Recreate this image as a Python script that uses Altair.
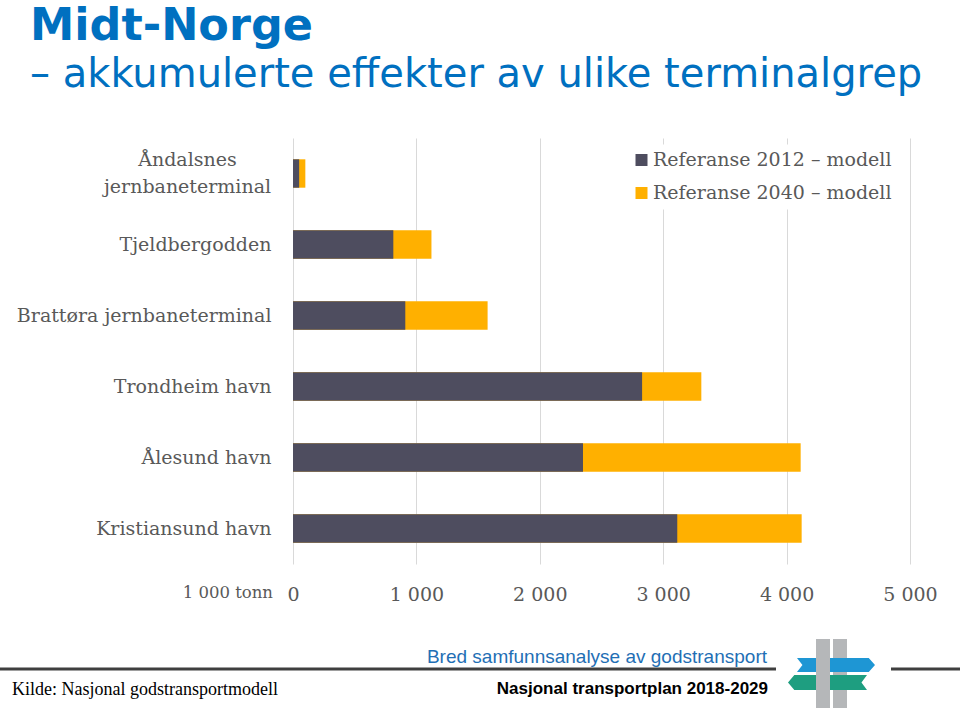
import altair as alt
import pandas as pd

# ---- data ----
categories = [
    "Åndalsnes jernbaneterminal",
    "Tjeldbergodden",
    "Brattøra jernbaneterminal",
    "Trondheim havn",
    "Ålesund havn",
    "Kristiansund havn",
]
ref_2012 = [50, 813, 910, 2829, 2350, 3114]
ref_2040 = [100, 1122, 1577, 3309, 4114, 4122]
series_names = ["Referanse 2012 – modell", "Referanse 2040 – modell"]
series_colors = ["#4E4D5F", "#FFB000"]
x_ticks = [0, 1000, 2000, 3000, 4000, 5000]

rows = []
for c, v in zip(categories, ref_2012):
    rows.append({"kategori": c, "serie": series_names[0], "verdi": v})
for c, v in zip(categories, ref_2040):
    rows.append({"kategori": c, "serie": series_names[1], "verdi": v})
df = pd.DataFrame(rows)

# ---- layout constants (plot area in page coords) ----
PX, PY = 293, 138          # plot origin on page
W, H = 617, 426


def px(x):
    return x - PX


def py(y):
    return y - PY


two_line = categories[0]
first, second = two_line.split(" ", 1)
label_expr = f"datum.label == '{two_line}' ? ['{first}', '{second}'] : datum.label"
cond_test = f"datum.value == '{two_line}'"

color_scale = alt.Scale(domain=series_names, range=series_colors)

y_enc = alt.Y(
    "kategori:N",
    sort=categories,
    title=None,
    scale=alt.Scale(paddingInner=0.6, paddingOuter=0.3),
    axis=alt.Axis(
        domain=False,
        ticks=False,
        grid=False,
        labelFont="DejaVu Serif",
        labelFontSize=19,
        labelColor="#595959",
        labelLineHeight=27,
        labelExpr=label_expr,
        labelAlign={"condition": {"test": cond_test, "value": "center"}, "value": "right"},
        labelPadding={"condition": {"test": cond_test, "value": 106}, "value": 22},
        labelOffset={"condition": {"test": cond_test, "value": -13.5}, "value": 0},
        labelLimit=400,
    ),
)

x_enc = alt.X(
    "verdi:Q",
    title=None,
    scale=alt.Scale(domain=[0, 5000], nice=False),
    axis=alt.Axis(
        values=x_ticks,
        domain=False,
        ticks=False,
        grid=True,
        gridColor="#D9D9D9",
        gridWidth=1,
        labelFont="DejaVu Serif",
        labelFontSize=19,
        labelColor="#595959",
        labelPadding=21,
        labelFlush=False,
        labelOverlap=False,
        labelExpr="replace(format(datum.value, ','), ',', ' ')",
    ),
)

color_enc = alt.Color(
    "serie:N",
    scale=color_scale,
    legend=alt.Legend(
        title=None,
        orient="none",
        legendX=px(626),
        legendY=py(144.5),
        direction="vertical",
        fillColor="white",
        padding=6,
        symbolType="square",
        symbolSize=144,
        symbolStrokeWidth=0,
        labelFont="DejaVu Serif",
        labelFontSize=19,
        labelColor="#595959",
        labelOffset=2,
        rowPadding=13,
        labelLimit=400,
    ),
)

bars_2040 = (
    alt.Chart(df)
    .transform_filter(alt.datum.serie == series_names[1])
    .mark_bar()
    .encode(x=x_enc, y=y_enc, color=color_enc)
)
bars_2012 = (
    alt.Chart(df)
    .transform_filter(alt.datum.serie == series_names[0])
    .mark_bar()
    .encode(x=x_enc, y=y_enc, color=color_enc)
)

one = pd.DataFrame({"k": [0]})


def text(t, x, y, **kw):
    return alt.Chart(one).mark_text(text=t, **kw).encode(
        x=alt.value(px(x)), y=alt.value(py(y))
    )


blue = "#0070C0"
title = text("Midt-Norge", 30, 40, font="DejaVu Sans", fontSize=44.5, fontWeight="bold",
             color=blue, align="left", baseline="alphabetic")
subtitle = text("– akkumulerte effekter av ulike terminalgrep", 30, 87, font="DejaVu Sans",
                fontSize=40, color=blue, align="left", baseline="alphabetic")
unit = text("1 000 tonn", 273, 598, font="DejaVu Serif", fontSize=16.5, color="#595959",
            align="right", baseline="alphabetic")
bred = text("Bred samfunnsanalyse av godstransport", 767, 663, font="Liberation Sans",
            fontSize=19, color="#1F6FB5", align="right", baseline="alphabetic")
ntp = text("Nasjonal transportplan 2018-2029", 768, 694, font="Liberation Sans",
           fontSize=17, fontWeight="bold", color="#000000", align="right", baseline="alphabetic")
kilde = text("Kilde: Nasjonal godstransportmodell", 12, 695, font="Liberation Serif",
             fontSize=18, color="#000000", align="left", baseline="alphabetic")

line_left = alt.Chart(one).mark_rule(color="#3F3F3F", strokeWidth=3).encode(
    x=alt.value(px(0)), x2=alt.value(px(776)), y=alt.value(py(669)))
line_right = alt.Chart(one).mark_rule(color="#3F3F3F", strokeWidth=3).encode(
    x=alt.value(px(891)), x2=alt.value(px(960)), y=alt.value(py(669)))

# logo (decorative)
bar2 = alt.Chart(one).mark_rect(color="#B5B7B9").encode(
    x=alt.value(px(833)), x2=alt.value(px(847)), y=alt.value(py(639)), y2=alt.value(py(708)))
blue_arrow = alt.Chart(one).mark_point(
    shape="M-1,-0.18 L0.84,-0.18 L1,0 L0.84,0.18 L-1,0.18 L-0.86,0 Z",
    filled=True, size=78 * 78, color="#1E96D4", opacity=1, strokeWidth=0,
).encode(x=alt.value(px(836)), y=alt.value(py(665)))
green_arrow = alt.Chart(one).mark_point(
    shape="M1,-0.19 L-0.84,-0.19 L-1,0 L-0.84,0.19 L1,0.19 L0.86,0 Z",
    filled=True, size=79 * 79, color="#1E9E80", opacity=1, strokeWidth=0,
).encode(x=alt.value(px(827.5)), y=alt.value(py(682.5)))
bar1 = alt.Chart(one).mark_rect(color="#B5B7B9").encode(
    x=alt.value(px(816)), x2=alt.value(px(830)), y=alt.value(py(639)), y2=alt.value(py(708)))

chart = (
    alt.layer(
        bars_2040, bars_2012,
        title, subtitle, unit, bred, ntp, kilde,
        line_left, line_right, bar2, blue_arrow, green_arrow, bar1,
    )
    .properties(
        width=W,
        height=H,
        autosize=alt.AutoSizeParams(type="none"),
        padding={"left": PX, "top": PY, "right": 960 - PX - W, "bottom": 711 - PY - H},
        background="white",
    )
    .configure_view(stroke=None)
)

chart.save("out.html", embed_options={"renderer": "svg", "actions": False})
